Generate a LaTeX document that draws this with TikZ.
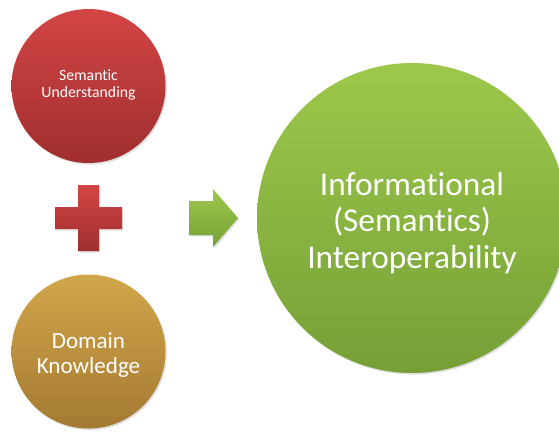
\documentclass[tikz,border=0pt]{standalone}
\usepackage{fontspec}
\setmainfont[Ligatures={NoCommon,NoContextual},RawFeature={-liga;-clig}]{Carlito}
\usetikzlibrary{shadows}
\definecolor{redtop}{HTML}{D34545}
\definecolor{redbot}{HTML}{A02E2E}
\definecolor{goldtop}{HTML}{D2A64A}
\definecolor{goldbot}{HTML}{A47A33}
\definecolor{greentop}{HTML}{9DC84B}
\definecolor{greenbot}{HTML}{76A037}
\tikzset{
  ball/.style={circle, inner sep=0pt, text=white, align=center,
    drop shadow={opacity=0.25, shadow xshift=1pt, shadow yshift=-1.2pt}},
  redball/.style={ball, top color=redtop, bottom color=redbot},
  goldball/.style={ball, top color=goldtop, bottom color=goldbot},
  greenball/.style={ball, top color=greentop, bottom color=greenbot},
  plusshape/.style={top color=redtop, bottom color=redbot,
    drop shadow={opacity=0.25, shadow xshift=1pt, shadow yshift=-1.2pt}},
  arrowshape/.style={top color=greentop, bottom color=greenbot,
    drop shadow={opacity=0.25, shadow xshift=1pt, shadow yshift=-1.2pt}},
}
\begin{document}
\begin{tikzpicture}[x=0.75pt,y=-0.75pt]
\useasboundingbox (0,0) rectangle (559,432);
\node[redball, minimum size=115.5pt] (sem) at (88.5,86) {};
\node[text=white, align=center, font=\fontsize{11.8}{12.8}\selectfont] (semt) at (88.5,85) {Semantic\\Understanding};
\node[goldball, minimum size=115.5pt] (dom) at (88.5,351.5) {};
\node[text=white, align=center, font=\fontsize{17.3}{18.8}\selectfont] (domt) at (88.5,355) {Domain\\Knowledge};
\node[greenball, minimum size=232.5pt] (info) at (412,218) {};
\node[text=white, align=center, font=\fontsize{25}{27.5}\selectfont] (infot) at (412,223) {Informational\\(Semantics)\\Interoperability};
% plus sign
\path[plusshape] (78,185) -- (99,185) -- (99,207) -- (122,207) -- (122,229) -- (99,229) -- (99,251) -- (78,251) -- (78,229) -- (55,229) -- (55,207) -- (78,207) -- cycle;
% arrow
\path[arrowshape] (189,201) -- (213,201) -- (213,189) -- (238,218) -- (213,247) -- (213,235) -- (189,235) -- cycle;
\end{tikzpicture}
\end{document}
